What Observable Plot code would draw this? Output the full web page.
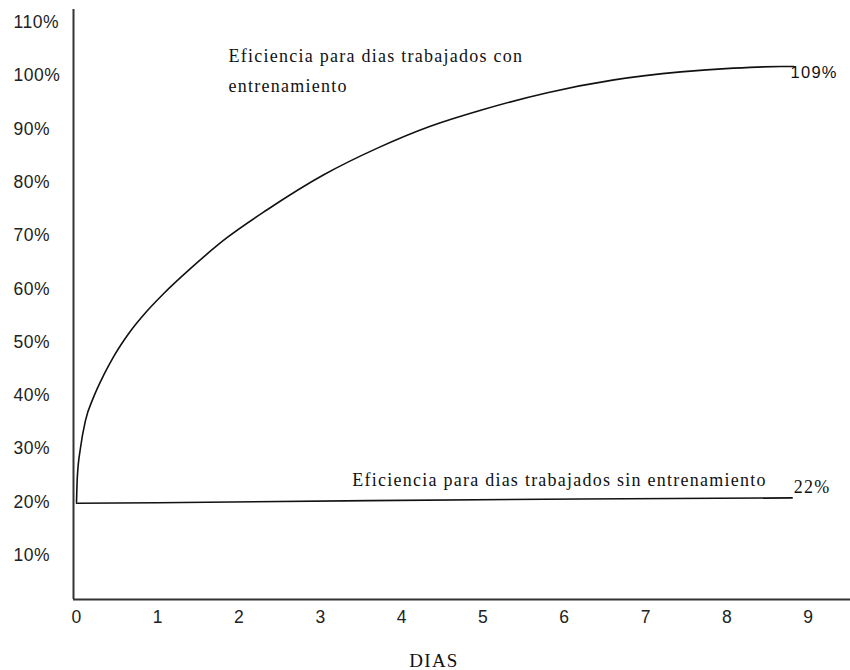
<!DOCTYPE html>
<html>
<head>
<meta charset="utf-8">
<script src="https://cdn.jsdelivr.net/npm/d3@7"></script>
<script src="https://cdn.jsdelivr.net/npm/@observablehq/plot@0.6"></script>
<style>
  html, body { margin: 0; padding: 0; background: #fff; }
  #chart svg { display: block; }
  #chart svg g[aria-label="text"] text { letter-spacing: 1.25px; }
  #chart svg g[aria-label="y-axis tick label"] text,
  #chart svg g[aria-label="x-axis tick label"] text { letter-spacing: 0.5px; }
</style>
</head>
<body>
<div id="chart"></div>
<script>
// Days (x) for the trained-efficiency curve and its efficiency values (%)
const diasCon = [0, 0.01, 0.05, 0.11, 0.21, 0.34, 0.46, 0.64, 0.87, 1.07, 1.40, 1.85, 2.34, 3.04, 3.70, 4.35, 4.97, 5.79, 6.61, 7.43, 8.08, 8.66, 8.82];
const efCon   = [20.0, 24.7, 30.3, 35.3, 39.7, 44.0, 47.4, 51.6, 55.9, 59.1, 63.8, 69.6, 74.8, 81.4, 86.4, 90.5, 93.5, 96.8, 99.2, 100.7, 101.4, 101.7, 101.7];
// Untrained efficiency line
const diasSin = [0, 1, 3.6, 6.2, 8.8];
const efSin   = [19.8, 19.9, 20.3, 20.6, 20.8];
// Tick values
const xTicks = [0, 1, 2, 3, 4, 5, 6, 7, 8, 9];
const yTicks = [10, 20, 30, 40, 50, 60, 70, 80, 90, 100, 110];
// Annotations
const labelCon = "Eficiencia para dias trabajados con\nentrenamiento";
const labelSin = "Eficiencia para dias trabajados sin entrenamiento";
const endCon = "109%";
const endSin = "22%";
const xLabel = "DIAS";

const xDomain = [-0.037, 9.517];
const yDomain = [1.75, 112.4];

const con = diasCon.map((d, i) => ({x: d, y: efCon[i]}));
const sin = diasSin.map((d, i) => ({x: d, y: efSin[i]}));

const serif = "'Liberation Serif', 'Times New Roman', serif";
const sans = "'Liberation Sans', Arial, sans-serif";

const chart = Plot.plot({
  width: 850,
  height: 670,
  marginLeft: 73,
  marginRight: 0,
  marginTop: 9,
  marginBottom: 71,
  style: {fontFamily: sans, fontSize: "18px", color: "#222", background: "#fff"},
  x: {domain: xDomain},
  y: {domain: yDomain},
  marks: [
    Plot.axisY({ticks: yTicks, tickFormat: d => d + "%", tickSize: 0, tickPadding: 3, textAnchor: "start", dx: -57, label: null, fontSize: 17.5, fill: "#222"}),
    Plot.axisX({ticks: xTicks, tickFormat: d => String(d), tickSize: 0, tickPadding: 11, label: null, fontSize: 17.5, fill: "#222"}),
    Plot.ruleX([xDomain[0]], {stroke: "#333", strokeWidth: 2}),
    Plot.ruleY([yDomain[0]], {stroke: "#333", strokeWidth: 2}),
    Plot.line(con, {x: "x", y: "y", curve: "monotone-x", stroke: "#111", strokeWidth: 1.6}),
    Plot.line(sin, {x: "x", y: "y", stroke: "#111", strokeWidth: 1.6}),
    Plot.text([labelCon], {x: 1.87, y: 96.9, text: d => d, textAnchor: "start", lineAnchor: "bottom", lineHeight: 1.65, fontFamily: serif, fontSize: 18, fill: "#111"}),
    Plot.text([labelSin], {x: 3.39, y: 23.1, text: d => d, textAnchor: "start", lineAnchor: "bottom", fontFamily: serif, fontSize: 18, fill: "#111"}),
    Plot.text([endCon], {x: 8.78, y: 99.6, text: d => d, textAnchor: "start", lineAnchor: "bottom", fontFamily: sans, fontSize: 16.5, fill: "#111"}),
    Plot.text([endSin], {x: 8.82, y: 21.8, text: d => d, textAnchor: "start", lineAnchor: "bottom", fontFamily: serif, fontSize: 18, fill: "#111"}),
    Plot.text([xLabel], {frameAnchor: "bottom", text: d => d, dx: -28, dy: 67, lineAnchor: "bottom", fontFamily: serif, fontSize: 19, fill: "#111"})
  ]
});
document.getElementById("chart").appendChild(chart);
</script>
</body>
</html>
